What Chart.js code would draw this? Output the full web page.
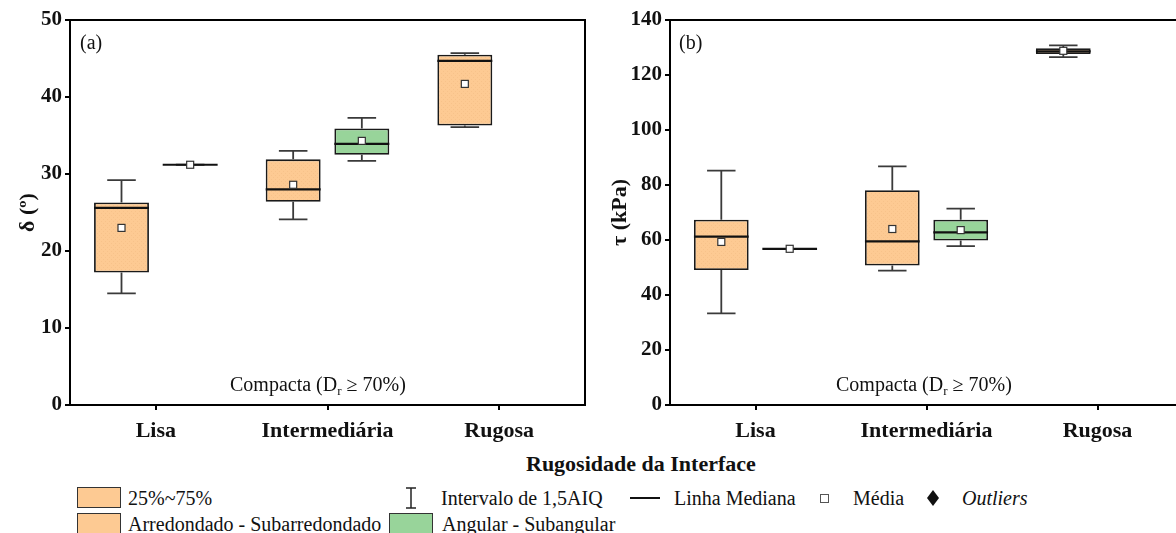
<!DOCTYPE html>
<html lang="pt">
<head>
<meta charset="UTF-8">
<title>Rugosidade da Interface</title>
<script src="https://cdn.jsdelivr.net/npm/chart.js@4.4.1/dist/chart.umd.min.js"></script>
<style>
  html, body { margin: 0; padding: 0; background: #fff; }
  body {
    width: 1176px; height: 533px; position: relative; overflow: hidden;
    font-family: 'Liberation Serif', 'Times New Roman', serif; color: #111;
  }
  .painel { position: absolute; top: 0; height: 450px; }
  #painelA { left: 0; width: 590px; }
  #painelB { left: 590px; width: 600px; }
  .txt { position: absolute; font-size: 20px; line-height: 1; white-space: nowrap; }
  .txt sub { font-size: 13px; vertical-align: -4px; }
  .negrito { font-weight: bold; font-size: 22px; }
  .cx { position: absolute; width: 44px; height: 21px; border: 1px solid #333; box-sizing: border-box; }
  .laranja { background: #fdca93; }
  .verde { background: #98d49a; }
</style>
</head>
<body>
<div class="painel" id="painelA"><canvas id="chartA"></canvas></div>
<div class="painel" id="painelB"><canvas id="chartB"></canvas></div>

<!-- rótulos dos painéis -->
<div class="txt" style="left:80px; top:32px;">(a)</div>
<div class="txt" style="left:679px; top:32px;">(b)</div>
<div class="txt" style="left:230px; top:374px;">Compacta (D<sub>r</sub> ≥ 70%)</div>
<div class="txt" style="left:836px; top:374px;">Compacta (D<sub>r</sub> ≥ 70%)</div>

<!-- título do eixo x comum -->
<div class="txt negrito" style="left:526px; top:453px;">Rugosidade da Interface</div>

<!-- legenda -->
<div class="cx laranja" style="left:77px; top:487px;"></div>
<div class="txt" style="left:128px; top:488px;">25%~75%</div>
<svg style="position:absolute; left:405px; top:487px;" width="12" height="22">
  <line x1="1" y1="1" x2="11" y2="1" stroke="#222" stroke-width="1.5"/>
  <line x1="6" y1="1" x2="6" y2="21" stroke="#222" stroke-width="1.5"/>
  <line x1="1" y1="21" x2="11" y2="21" stroke="#222" stroke-width="1.5"/>
</svg>
<div class="txt" style="left:441px; top:488px;">Intervalo de 1,5AIQ</div>
<div style="position:absolute; left:630px; top:497px; width:30px; height:2px; background:#111;"></div>
<div class="txt" style="left:674px; top:488px;">Linha Mediana</div>
<div style="position:absolute; left:820px; top:494px; width:7px; height:7px; border:1px solid #555; background:#fff;"></div>
<div class="txt" style="left:853px; top:488px;">Média</div>
<svg style="position:absolute; left:927px; top:490px;" width="12" height="16">
  <polygon points="6,0 12,8 6,16 0,8" fill="#111"/>
</svg>
<div class="txt" style="left:962px; top:488px; font-style:italic;">Outliers</div>
<div class="cx laranja" style="left:77px; top:513px;"></div>
<div class="txt" style="left:128px; top:514px;">Arredondado - Subarredondado</div>
<div class="cx verde" style="left:389px; top:513px;"></div>
<div class="txt" style="left:442px; top:514px;">Angular - Subangular</div>

<script>
// Categorias do eixo x
const categorias = ['Lisa', 'Intermediária', 'Rugosa'];

// (a) Ângulo de atrito de interface δ (º) - Arredondado - Subarredondado
const deltaArredMin   = [14.5, 24.1, 36.1];
const deltaArredQ1    = [17.2, 26.4, 36.3];
const deltaArredMed   = [25.6, 28.0, 44.7];
const deltaArredQ3    = [26.3, 31.9, 45.5];
const deltaArredMax   = [29.2, 33.0, 45.7];
const deltaArredMedia = [23.0, 28.6, 41.7];
// (a) Angular - Subangular
const deltaAngMin   = [31.2, 31.7, null];
const deltaAngQ1    = [31.2, 32.5, null];
const deltaAngMed   = [31.2, 33.9, null];
const deltaAngQ3    = [31.2, 35.9, null];
const deltaAngMax   = [31.2, 37.3, null];
const deltaAngMedia = [31.2, 34.3, null];

// (b) Resistência ao cisalhamento τ (kPa) - Arredondado - Subarredondado
const tauArredMin   = [33.3, 48.9, 126.5];
const tauArredQ1    = [49.1, 50.7, 127.6];
const tauArredMed   = [61.2, 59.5, 128.6];
const tauArredQ3    = [67.4, 78.1, 129.7];
const tauArredMax   = [85.2, 86.8, 130.8];
const tauArredMedia = [59.3, 64.0, 128.8];
// (b) Angular - Subangular
const tauAngMin   = [56.8, 57.8, null];
const tauAngQ1    = [56.8, 59.8, null];
const tauAngMed   = [56.8, 62.8, null];
const tauAngQ3    = [56.8, 67.4, null];
const tauAngMax   = [56.8, 71.4, null];
const tauAngMedia = [56.8, 63.6, null];

const corLaranja = '#fdca93';
const corVerde = '#98d49a';
const fonteSerif = "'Liberation Serif', 'Times New Roman', serif";

// Textura pontilhada bem leve para as caixas laranja
function texturaLaranja() {
    const c = document.createElement('canvas');
    c.width = 4; c.height = 4;
    const g = c.getContext('2d');
    g.fillStyle = corLaranja;
    g.fillRect(0, 0, 4, 4);
    g.fillStyle = 'rgba(220, 160, 100, 0.18)';
    g.fillRect(1, 1, 1, 1);
    g.fillRect(3, 3, 1, 1);
    return g.createPattern(c, 'repeat');
}

// Plugin: bigodes, linha mediana e média sobre as caixas
const boxExtras = {
    id: 'boxExtras',
    afterDatasetsDraw(chart) {
        const ctx = chart.ctx;
        const y = chart.scales.y;
        chart.data.datasets.forEach((ds, di) => {
            const meta = chart.getDatasetMeta(di);
            meta.data.forEach((bar, i) => {
                if (ds.minimo[i] == null) return;
                const cx = bar.x;
                const w = bar.width;
                const yMin = y.getPixelForValue(ds.minimo[i]);
                const yMax = y.getPixelForValue(ds.maximo[i]);
                const yQ1 = y.getPixelForValue(ds.data[i][0]);
                const yQ3 = y.getPixelForValue(ds.data[i][1]);
                const yMed = y.getPixelForValue(ds.mediana[i]);
                const yMedia = y.getPixelForValue(ds.media[i]);
                const cap = w * 0.26;

                ctx.save();
                // bigodes
                ctx.strokeStyle = '#3a3a3a';
                ctx.lineWidth = 1.8;
                ctx.beginPath();
                ctx.moveTo(cx, yQ3); ctx.lineTo(cx, yMax);
                ctx.moveTo(cx - cap, yMax); ctx.lineTo(cx + cap, yMax);
                ctx.moveTo(cx, yQ1); ctx.lineTo(cx, yMin);
                ctx.moveTo(cx - cap, yMin); ctx.lineTo(cx + cap, yMin);
                ctx.stroke();

                // mediana
                ctx.strokeStyle = '#111';
                ctx.lineWidth = 2.2;
                ctx.beginPath();
                ctx.moveTo(cx - w / 2, yMed); ctx.lineTo(cx + w / 2, yMed);
                ctx.stroke();

                // média
                ctx.fillStyle = '#fff';
                ctx.strokeStyle = '#333';
                ctx.lineWidth = 1.2;
                ctx.fillRect(cx - 3.5, yMedia - 3.5, 7, 7);
                ctx.strokeRect(cx - 3.5, yMedia - 3.5, 7, 7);
                ctx.restore();
            });
        });
    }
};

// Plugin: moldura em volta da área do gráfico
const moldura = {
    id: 'moldura',
    afterDraw(chart) {
        const {ctx, chartArea} = chart;
        ctx.save();
        ctx.strokeStyle = '#000';
        ctx.lineWidth = 2;
        ctx.strokeRect(chartArea.left, chartArea.top, chartArea.right - chartArea.left, chartArea.bottom - chartArea.top);
        ctx.restore();
    }
};

function montarDataset(label, cor, q1, q3, min, med, max, media) {
    return {
        label: label,
        data: q1.map((v, i) => v == null ? null : [v, q3[i]]),
        minimo: min,
        mediana: med,
        maximo: max,
        media: media,
        backgroundColor: cor,
        borderColor: '#1a1a1a',
        borderWidth: 1.8,
        borderSkipped: false,
        categoryPercentage: 0.8,
        barPercentage: 0.8
    };
}

function criarGrafico(canvasId, datasets, yTitulo, yMax, yPasso, eixoLargura, tituloPad, padDireita) {
    const ctx = document.getElementById(canvasId).getContext('2d');
    return new Chart(ctx, {
        type: 'bar',
        data: { labels: categorias, datasets: datasets },
        plugins: [boxExtras, moldura],
        options: {
            responsive: true,
            maintainAspectRatio: false,
            animation: false,
            layout: { padding: { top: 20, right: padDireita, bottom: 0, left: 0 } },
            plugins: { legend: { display: false }, tooltip: { enabled: false } },
            scales: {
                x: {
                    grid: { display: true, drawOnChartArea: false, drawTicks: true, offset: false, tickLength: 5, color: '#000', lineWidth: 2 },
                    border: { display: true, color: '#000', width: 2 },
                    ticks: { color: '#111', padding: 8, font: { family: fonteSerif, size: 22, weight: 'bold' } },
                    afterFit: (scale) => { scale.height = 45; }
                },
                y: {
                    min: 0,
                    max: yMax,
                    ticks: { stepSize: yPasso, color: '#111', padding: 3, font: { family: fonteSerif, size: 21, weight: 'bold' } },
                    grid: { display: true, drawOnChartArea: false, drawTicks: true, tickLength: 5, color: '#000', lineWidth: 2 },
                    border: { display: true, color: '#000', width: 2 },
                    title: {
                        display: true,
                        text: yTitulo,
                        color: '#111',
                        padding: { top: tituloPad, bottom: 0 },
                        font: { family: fonteSerif, size: 22, weight: 'bold' }
                    },
                    afterFit: (scale) => { scale.width = eixoLargura; }
                }
            }
        }
    });
}

document.addEventListener('DOMContentLoaded', function() {
    const padrao = texturaLaranja();

    criarGrafico('chartA', [
        montarDataset('Arredondado - Subarredondado', padrao, deltaArredQ1, deltaArredQ3, deltaArredMin, deltaArredMed, deltaArredMax, deltaArredMedia),
        montarDataset('Angular - Subangular', corVerde, deltaAngQ1, deltaAngQ3, deltaAngMin, deltaAngMed, deltaAngMax, deltaAngMedia)
    ], 'δ (º)', 50, 10, 70, 15, 5);

    criarGrafico('chartB', [
        montarDataset('Arredondado - Subarredondado', padrao, tauArredQ1, tauArredQ3, tauArredMin, tauArredMed, tauArredMax, tauArredMedia),
        montarDataset('Angular - Subangular', corVerde, tauAngQ1, tauAngQ3, tauAngMin, tauAngMed, tauAngMax, tauAngMedia)
    ], 'τ (kPa)', 140, 20, 80, 17, 7);
});
</script>
</body>
</html>
